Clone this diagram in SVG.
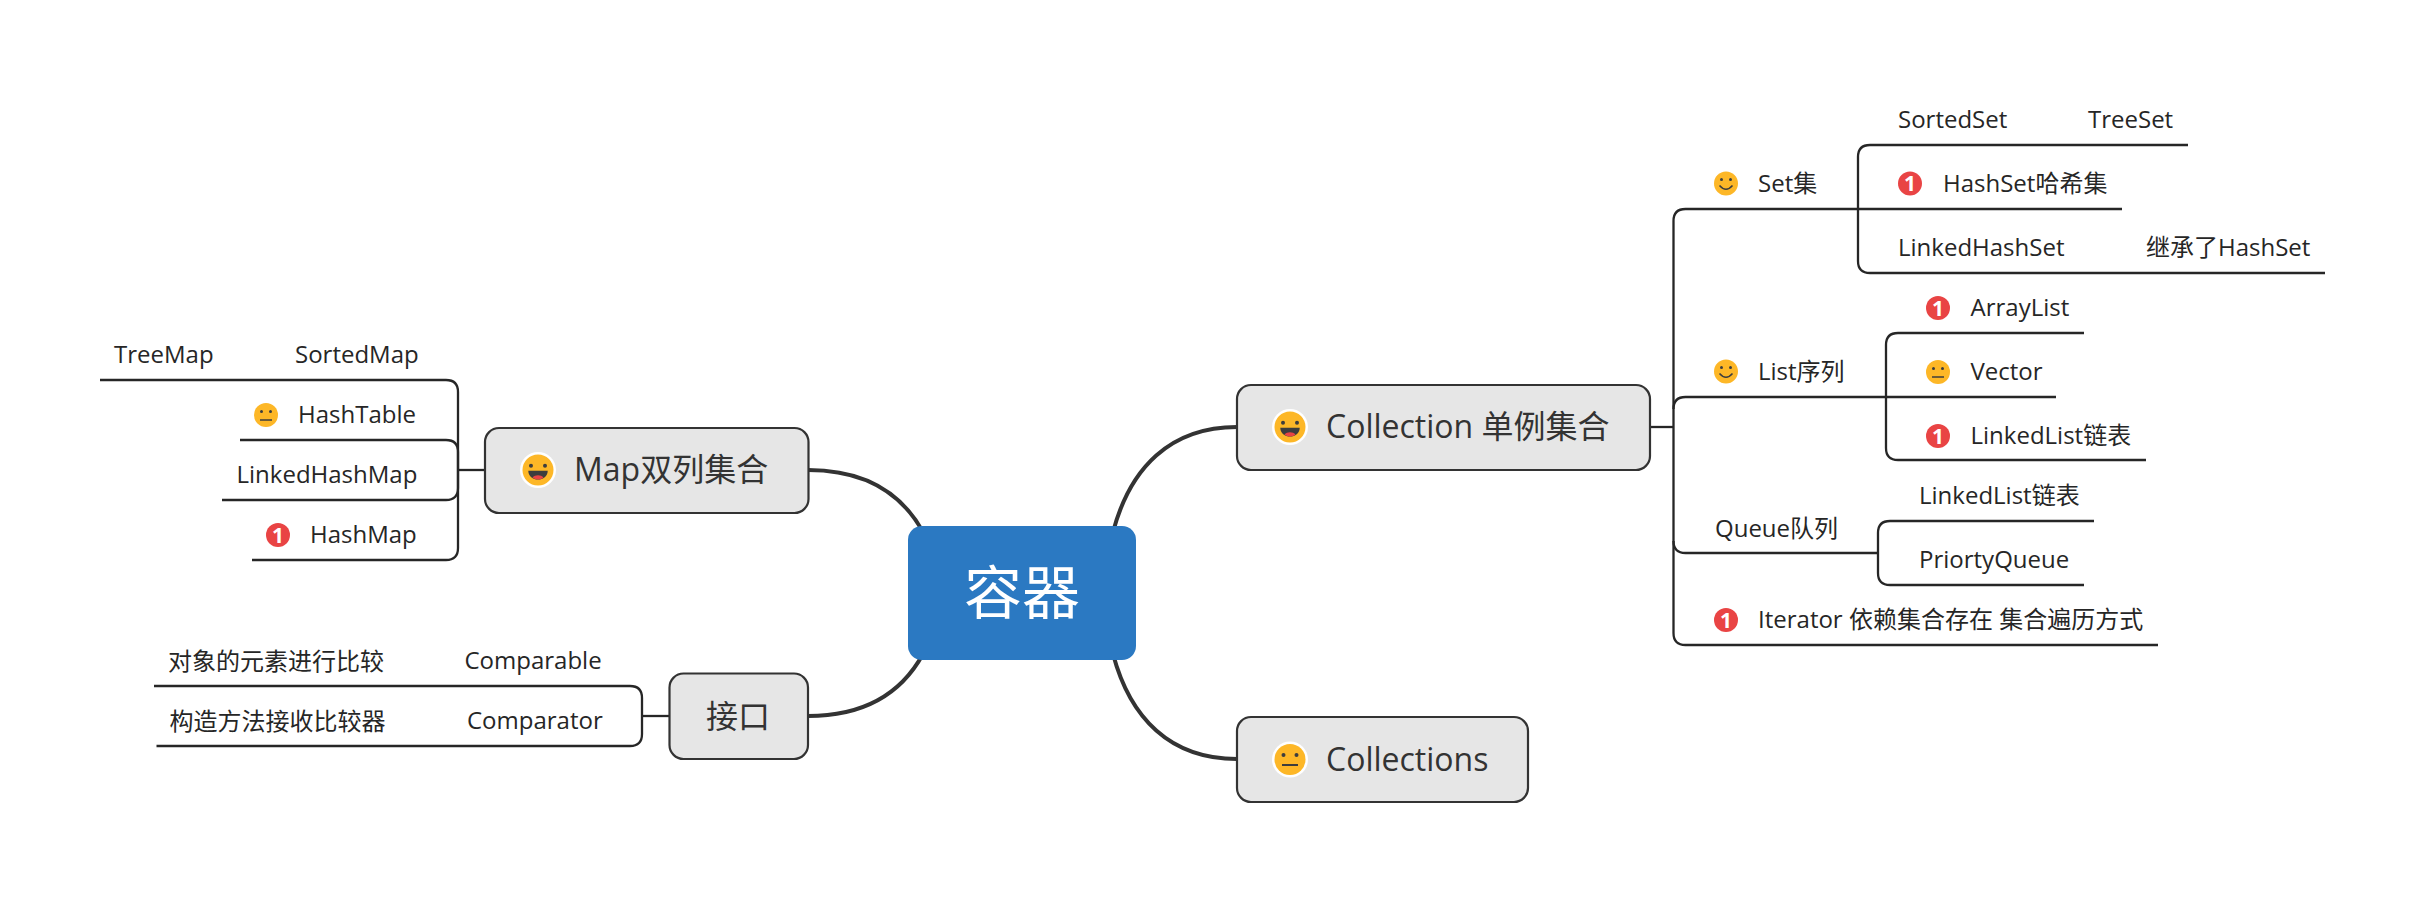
<svg xmlns="http://www.w3.org/2000/svg" width="2426" height="902" viewBox="0 0 2426 902">
<style>
text{font-family:"Open Sans","Noto Sans CJK SC",sans-serif;fill:#262626}
.c{font-size:24px}
.m{font-size:32px;fill:#333}
.r{font-size:58px;fill:#fff;text-anchor:middle}
.n{fill:#e6e6e6;stroke:#333;stroke-width:2.2}
.l{fill:none;stroke:#262626;stroke-width:2.3}
.b{fill:none;stroke:#333;stroke-width:4}
.o{font-size:21px;font-weight:700;fill:#fff;text-anchor:middle;font-family:"Open Sans",sans-serif}
</style>
<defs>
<g id="smile"><circle r="12" fill="#fdb727"/><circle cx="-4.500" cy="-4" r="1.500" fill="#3d3d3d"/><circle cx="4.500" cy="-4" r="1.500" fill="#3d3d3d"/><path d="M-6.500 2Q0 9.500 6.500 2" fill="none" stroke="#3d3d3d" stroke-width="1.500"/></g>
<g id="neutral"><circle r="12" fill="#fdb727"/><circle cx="-4.500" cy="-3.500" r="1.500" fill="#3d3d3d"/><circle cx="4.500" cy="-3.500" r="1.500" fill="#3d3d3d"/><path d="M-6 5H6" fill="none" stroke="#3d3d3d" stroke-width="1.500"/></g>
<g id="neutralB"><circle r="18" fill="#fff"/><circle r="15.500" fill="#fdb727"/><circle cx="-6.500" cy="-4.500" r="2" fill="#3d3d3d"/><circle cx="6.500" cy="-4.500" r="2" fill="#3d3d3d"/><path d="M-8 5.500H8" fill="none" stroke="#3d3d3d" stroke-width="2"/></g>
<g id="laugh"><circle r="18" fill="#fff"/><circle r="15.500" fill="#fdb727"/><circle cx="-7" cy="-4.300" r="2" fill="#3d3d3d"/><circle cx="7" cy="-4.300" r="2" fill="#3d3d3d"/><path d="M-9.700 .7H9.700C9.700 6.500 5 9.500 0 9.500S-9.700 6.500-9.700 .7Z" fill="#3d3d3d"/><path d="M-5.500 7.500C-3 4.500 3 4.500 5.500 7.500C3 10-3 10-5.500 7.500Z" fill="#e94444"/></g>
<circle id="red" r="12" fill="#e94444"/>
</defs>
<g id="connectors">
<path class="b" d="M1237 427C1170 427 1130 468 1113 532"/>
<path class="b" d="M1237 759C1170 759 1130 718 1113 654"/>
<path class="b" d="M808 470C860 470 900 490 923 532"/>
<path class="b" d="M808 716C860 716 900 696 923 654"/>
<path class="l" d="M1650 427H1673.500"/>
<path class="l" d="M2122 209H1685.500Q1673.500 209 1673.500 221V633Q1673.500 645 1685.500 645H2158"/>
<path class="l" d="M1673.500 409Q1673.500 397 1685.500 397H2056"/>
<path class="l" d="M1673.500 541Q1673.500 553 1685.500 553H1878"/>
<path class="l" d="M2188 145H1870Q1858 145 1858 157V261Q1858 273 1870 273H2325"/>
<path class="l" d="M2084 333H1898Q1886 333 1886 345V448Q1886 460 1898 460H2146"/>
<path class="l" d="M2094 521H1890Q1878 521 1878 533V573Q1878 585 1890 585H2084"/>
<path class="l" d="M485 470H458"/>
<path class="l" d="M100 380H446Q458 380 458 392V548Q458 560 446 560H252"/>
<path class="l" d="M240 440H446Q458 440 458 452V488Q458 500 446 500H222"/>
<path class="l" d="M669.500 716H642"/>
<path class="l" d="M154 686H630Q642 686 642 698V734Q642 746 630 746H156.500"/>
</g>
<g id="root"><rect x="908" y="526" width="228" height="134" rx="14" fill="#2b79c2"/><text class="r" x="1022" y="614">容器</text></g>
<g id="collection"><rect class="n" x="1237" y="385" width="413" height="85" rx="14"/><use href="#laugh" x="1290" y="427"/><text class="m" x="1326" y="438">Collection 单例集合</text></g>
<g id="collections"><rect class="n" x="1237" y="717" width="291" height="85" rx="14"/><use href="#neutralB" x="1290" y="759.500"/><text class="m" x="1326" y="771">Collections</text></g>
<g id="map"><rect class="n" x="485" y="428" width="323.500" height="85" rx="14"/><use href="#laugh" x="538" y="470"/><text class="m" x="574" y="481">Map双列集合</text></g>
<g id="iface"><rect class="n" x="669.500" y="673.500" width="138.500" height="85.500" rx="14"/><text class="m" x="706" y="728">接口</text></g>
<g id="set"><use href="#smile" x="1726" y="183.500"/><text class="c" x="1758" y="192">Set集</text></g>
<g id="sortedset"><text class="c" x="1898" y="128">SortedSet</text></g>
<g id="treeset"><text class="c" x="2088" y="128">TreeSet</text></g>
<g id="hashset"><use href="#red" x="1910" y="183.500"/><text class="o" x="1910" y="191">1</text><text class="c" x="1943" y="192">HashSet哈希集</text></g>
<g id="linkedhashset"><text class="c" x="1898" y="256">LinkedHashSet</text></g>
<g id="extends"><text class="c" x="2146" y="256">继承了HashSet</text></g>
<g id="list"><use href="#smile" x="1726" y="371.500"/><text class="c" x="1758" y="380">List序列</text></g>
<g id="arraylist"><use href="#red" x="1938" y="308"/><text class="o" x="1938" y="315.500">1</text><text class="c" x="1970.500" y="316">ArrayList</text></g>
<g id="vector"><use href="#neutral" x="1938" y="372"/><text class="c" x="1970.500" y="380">Vector</text></g>
<g id="linkedlist"><use href="#red" x="1938" y="436"/><text class="o" x="1938" y="443.500">1</text><text class="c" x="1970.500" y="444">LinkedList链表</text></g>
<g id="queue"><text class="c" x="1715" y="537">Queue队列</text></g>
<g id="qlinked"><text class="c" x="1919" y="504">LinkedList链表</text></g>
<g id="pqueue"><text class="c" x="1919" y="568">PriortyQueue</text></g>
<g id="iterator"><use href="#red" x="1726" y="620"/><text class="o" x="1726" y="627.500">1</text><text class="c" x="1758" y="628">Iterator 依赖集合存在 集合遍历方式</text></g>
<g id="treemap"><text class="c" x="114" y="363">TreeMap</text></g>
<g id="sortedmap"><text class="c" x="295" y="363">SortedMap</text></g>
<g id="hashtable"><use href="#neutral" x="266" y="415"/><text class="c" x="298" y="423">HashTable</text></g>
<g id="linkedhashmap"><text class="c" x="236.500" y="483">LinkedHashMap</text></g>
<g id="hashmap"><use href="#red" x="278" y="535"/><text class="o" x="278" y="542.500">1</text><text class="c" x="310" y="543">HashMap</text></g>
<g id="compare1"><text class="c" x="168" y="670">对象的元素进行比较</text></g>
<g id="comparable"><text class="c" x="464.500" y="669">Comparable</text></g>
<g id="compare2"><text class="c" x="169.500" y="730">构造方法接收比较器</text></g>
<g id="comparator"><text class="c" x="467" y="729">Comparator</text></g>
</svg>
